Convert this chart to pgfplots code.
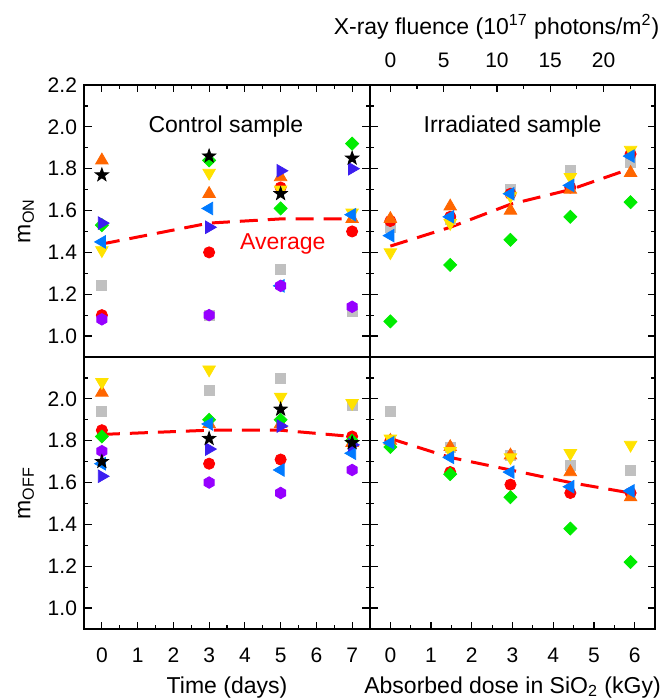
\documentclass[border=0pt]{standalone}
\usepackage{fontspec}
\setmainfont{Liberation Sans}
\usepackage{pgfplots}
\usepackage{pgfplotstable}
\pgfplotsset{compat=1.18}

\definecolor{cSq}{RGB}{192,192,192}
\definecolor{cCi}{RGB}{255,0,0}
\definecolor{cUp}{RGB}{255,102,0}
\definecolor{cDn}{RGB}{255,226,0}
\definecolor{cDi}{RGB}{0,236,0}
\definecolor{cLe}{RGB}{0,122,255}
\definecolor{cRi}{RGB}{60,30,240}
\definecolor{cHx}{RGB}{150,0,255}

% filled hexagon and filled five-point star
\pgfdeclareplotmark{hexa}{%
  \pgfpathmoveto{\pgfpointpolar{90}{\pgfplotmarksize}}%
  \pgfpathlineto{\pgfpointpolar{150}{\pgfplotmarksize}}%
  \pgfpathlineto{\pgfpointpolar{210}{\pgfplotmarksize}}%
  \pgfpathlineto{\pgfpointpolar{270}{\pgfplotmarksize}}%
  \pgfpathlineto{\pgfpointpolar{330}{\pgfplotmarksize}}%
  \pgfpathlineto{\pgfpointpolar{30}{\pgfplotmarksize}}%
  \pgfpathclose\pgfusepathqfillstroke}
\pgfdeclareplotmark{fstar}{%
  \pgfpathmoveto{\pgfpointpolar{90}{\pgfplotmarksize}}%
  \pgfpathlineto{\pgfpointpolar{126}{0.4\pgfplotmarksize}}%
  \pgfpathlineto{\pgfpointpolar{162}{\pgfplotmarksize}}%
  \pgfpathlineto{\pgfpointpolar{198}{0.4\pgfplotmarksize}}%
  \pgfpathlineto{\pgfpointpolar{234}{\pgfplotmarksize}}%
  \pgfpathlineto{\pgfpointpolar{270}{0.4\pgfplotmarksize}}%
  \pgfpathlineto{\pgfpointpolar{306}{\pgfplotmarksize}}%
  \pgfpathlineto{\pgfpointpolar{342}{0.4\pgfplotmarksize}}%
  \pgfpathlineto{\pgfpointpolar{18}{\pgfplotmarksize}}%
  \pgfpathlineto{\pgfpointpolar{54}{0.4\pgfplotmarksize}}%
  \pgfpathclose\pgfusepathqfillstroke}

\pgfplotsset{
  panel/.style={
    scale only axis, height=136pt,
    ymin=0.9, ymax=2.2,
    minor ytick={0.9,1.1,...,2.15},
    tick align=inside,
    major tick length=3.75pt, minor tick length=2pt,
    every tick/.append style={black, line width=0.6pt},
    axis line style={line width=0.6pt},
    ytick pos=both,
    /pgf/number format/assume math mode=true,
    tick label style={font=\fontsize{10.5}{12}\selectfont},
    label style={font=\fontsize{11.5}{13}\selectfont},
    yticklabel style={/pgf/number format/.cd, fixed, fixed zerofill, precision=1},
  },
  dayax/.style={panel, width=143pt, xmin=-0.5, xmax=7.5, xtick={0,...,7}, minor x tick num=1},
  doseax/.style={panel, width=142.5pt, xmin=-0.5, xmax=6.5, yticklabels=\empty},
  sq/.style={only marks, mark=square*, mark size=2.5pt, color=cSq},
  ci/.style={only marks, mark=*, mark size=2.8pt, color=cCi},
  up/.style={only marks, mark=triangle*, mark size=3.6pt, color=cUp},
  dn/.style={only marks, mark=triangle*, mark size=3.6pt, mark options={rotate=180}, color=cDn},
  di/.style={only marks, mark=square*, mark size=2.3pt, mark options={rotate=45}, color=cDi},
  le/.style={only marks, mark=triangle*, mark size=3.6pt, mark options={rotate=90}, color=cLe},
  ri/.style={only marks, mark=triangle*, mark size=3.6pt, mark options={rotate=-90}, color=cRi},
  hx/.style={only marks, mark=hexa, mark size=2.9pt, color=cHx},
  st/.style={only marks, mark=fstar, mark size=3.5pt, color=black},
  avg/.style={red, line width=1.5pt, dash pattern=on 9pt off 5pt, no markers},
}

% control sample, m_ON
\pgfplotstableread{
x sq   ci   up   dn   di   le   ri   hx   st   av
0 1.24 1.10 1.84 1.41 1.53 1.45 1.54 1.08 1.77 1.44
3 1.10 1.40 1.68 1.78 1.84 1.61 1.52 1.10 1.86 1.54
5 1.32 1.71 1.76 1.70 1.61 1.24 1.79 1.24 1.68 1.56
7 1.12 1.50 1.56 1.59 1.92 1.58 1.80 1.14 1.85 1.56
}\tabCon
% control sample, m_OFF
\pgfplotstableread{
x sq   ci   up   dn   di   le   ri   hx   st   av
0 1.94 1.85 2.03 2.08 1.82 1.69 1.63 1.75 1.70 1.83
3 2.04 1.69 1.88 2.14 1.90 1.88 1.76 1.60 1.81 1.85
5 2.10 1.71 1.88 2.01 1.90 1.66 1.87 1.55 1.95 1.85
7 1.97 1.82 1.79 1.98 1.80 1.74 1.78 1.66 1.79 1.82
}\tabCoff
% irradiated sample, m_ON
\pgfplotstableread{
x    sq   ci   up   dn   di   le   av
0    1.52 1.55 1.56 1.40 1.07 1.48 1.43
1.47 1.56 1.57 1.62 1.54 1.34 1.57 1.52
2.95 1.70 1.68 1.60 1.67 1.46 1.68 1.63
4.42 1.79 1.71 1.70 1.76 1.57 1.72 1.70
5.90 1.83 1.87 1.78 1.89 1.64 1.86 1.80
}\tabIon
% irradiated sample, m_OFF
\pgfplotstableread{
x    sq   ci   up   dn   di   le   av
0    1.94 1.80 1.80 1.81 1.77 1.79 1.81
1.47 1.77 1.65 1.77 1.75 1.64 1.72 1.72
2.95 1.73 1.59 1.73 1.72 1.53 1.65 1.66
4.42 1.68 1.55 1.65 1.74 1.38 1.58 1.60
5.90 1.66 1.55 1.53 1.78 1.22 1.56 1.55
}\tabIoff

\begin{document}
\begin{tikzpicture}
\useasboundingbox (0,0) rectangle (333.5pt,-349.5pt);

% top left
\begin{axis}[dayax, at={(42pt,-42.5pt)}, anchor=north west,
  ytick={1.0,1.2,...,2.25}, xtick pos=right, xticklabels=\empty,
  ylabel={m\textsubscript{ON}}]
\addplot[avg] table[x=x,y=av]{\tabCon};
\addplot[sq] table[x=x,y=sq]{\tabCon};
\addplot[ci] table[x=x,y=ci]{\tabCon};
\addplot[up] table[x=x,y=up]{\tabCon};
\addplot[dn] table[x=x,y=dn]{\tabCon};
\addplot[di] table[x=x,y=di]{\tabCon};
\addplot[le] table[x=x,y=le]{\tabCon};
\addplot[ri] table[x=x,y=ri]{\tabCon};
\addplot[hx] table[x=x,y=hx]{\tabCon};
\addplot[st] table[x=x,y=st]{\tabCon};
\node[font=\fontsize{11.5}{13}\selectfont] at (axis cs:3.47,2.0) {Control sample};
\node[font=\fontsize{11.5}{13}\selectfont, text=red] at (axis cs:5.06,1.44) {Average};
\end{axis}

% top right
\begin{axis}[doseax, at={(185pt,-42.5pt)}, anchor=north west,
  ytick={1.0,1.2,...,2.25},
  xtick={0,1.309,2.618,3.927,5.236}, xticklabels={0,5,10,15,20},
  minor xtick={0.654,1.963,3.272,4.581,5.890},
  xtick pos=right, xticklabel pos=right,
  xticklabel style={yshift=5pt},
  xlabel={X-ray fluence (10\textsuperscript{17} photons/m\textsuperscript{2})},
  xlabel style={xshift=-8pt}]
\addplot[avg] table[x=x,y=av]{\tabIon};
\addplot[sq] table[x=x,y=sq]{\tabIon};
\addplot[ci] table[x=x,y=ci]{\tabIon};
\addplot[up] table[x=x,y=up]{\tabIon};
\addplot[dn] table[x=x,y=dn]{\tabIon};
\addplot[di] table[x=x,y=di]{\tabIon};
\addplot[le] table[x=x,y=le]{\tabIon};
\node[font=\fontsize{11.5}{13}\selectfont] at (axis cs:3.0,2.0) {Irradiated sample};
\end{axis}

% bottom left
\begin{axis}[dayax, at={(42pt,-178.5pt)}, anchor=north west,
  ytick={1.0,1.2,...,2.05}, xtick pos=left,
  xticklabel style={yshift=-6pt},
  xlabel={Time (days)}, ylabel={m\textsubscript{OFF}}]
\addplot[avg] table[x=x,y=av]{\tabCoff};
\addplot[sq] table[x=x,y=sq]{\tabCoff};
\addplot[ci] table[x=x,y=ci]{\tabCoff};
\addplot[up] table[x=x,y=up]{\tabCoff};
\addplot[dn] table[x=x,y=dn]{\tabCoff};
\addplot[di] table[x=x,y=di]{\tabCoff};
\addplot[le] table[x=x,y=le]{\tabCoff};
\addplot[ri] table[x=x,y=ri]{\tabCoff};
\addplot[hx] table[x=x,y=hx]{\tabCoff};
\addplot[st] table[x=x,y=st]{\tabCoff};
\end{axis}

% bottom right
\begin{axis}[doseax, at={(185pt,-178.5pt)}, anchor=north west,
  ytick={1.0,1.2,...,2.05}, xtick={0,...,6}, minor x tick num=1, xtick pos=left,
  xticklabel style={yshift=-6pt},
  xlabel={Absorbed dose in SiO\textsubscript{2} (kGy)}]
\addplot[avg] table[x=x,y=av]{\tabIoff};
\addplot[sq] table[x=x,y=sq]{\tabIoff};
\addplot[ci] table[x=x,y=ci]{\tabIoff};
\addplot[up] table[x=x,y=up]{\tabIoff};
\addplot[dn] table[x=x,y=dn]{\tabIoff};
\addplot[di] table[x=x,y=di]{\tabIoff};
\addplot[le] table[x=x,y=le]{\tabIoff};
\end{axis}
\end{tikzpicture}
\end{document}
